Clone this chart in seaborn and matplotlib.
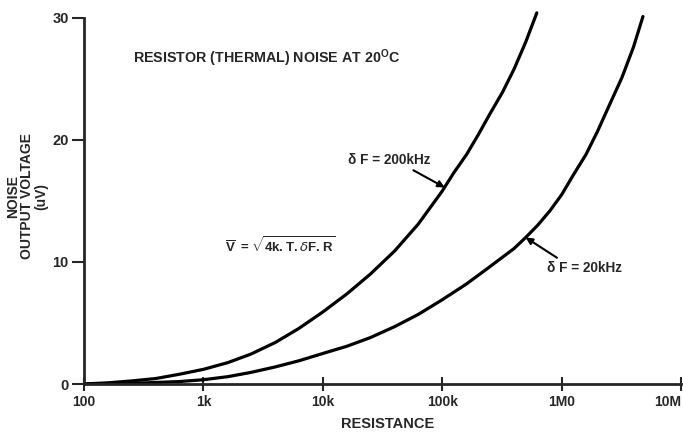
import matplotlib
matplotlib.use("Agg")
import matplotlib.pyplot as plt
import numpy as np
import pandas as pd
import seaborn as sns

# values (resistance in ohms, noise in uV)
r_200k = [100, 160, 250, 400, 630, 1e3, 1.6e3, 2.5e3, 4e3, 6.3e3, 1e4, 1.6e4, 2.5e4,
          4e4, 6.3e4, 1e5, 1.25e5, 1.6e5, 2e5, 2.5e5, 3.2e5, 4e5, 5e5, 6.2e5]
v_200k = [0.0, 0.1, 0.25, 0.45, 0.8, 1.2, 1.75, 2.45, 3.4, 4.55, 5.9, 7.4, 9.0,
          10.9, 13.1, 15.8, 17.3, 18.8, 20.4, 22.1, 23.9, 25.8, 28.0, 30.4]

r_20k = [100, 250, 630, 1e3, 1.6e3, 2.5e3, 4e3, 6.3e3, 1e4, 1.6e4, 2.5e4, 4e4, 6.3e4,
         1e5, 1.6e5, 2.5e5, 4e5, 5e5, 6.3e5, 8e5, 1e6, 1.25e6, 1.6e6, 2e6, 2.5e6,
         3.2e6, 4e6, 4.8e6]
v_20k = [0.0, 0.05, 0.2, 0.35, 0.6, 0.95, 1.4, 1.9, 2.5, 3.1, 3.8, 4.7, 5.7,
         6.9, 8.2, 9.6, 11.1, 12.0, 13.0, 14.2, 15.5, 17.1, 18.8, 20.7, 22.8,
         25.1, 27.6, 30.1]

xticks = [100, 1e3, 1e4, 1e5, 1e6, 1e7]
xticklabels = ["100", "1k", "10k", "100k", "1M0", "10M"]
yticks = [0, 10, 20, 30]

df1 = pd.DataFrame({"R": r_200k, "V": v_200k})
df2 = pd.DataFrame({"R": r_20k, "V": v_20k})

sns.set_style("ticks")
plt.rcParams['font.family'] = ['Liberation Sans', 'DejaVu Sans']
plt.rcParams['mathtext.fontset'] = 'custom'
plt.rcParams['mathtext.bf'] = 'Liberation Sans:bold'
plt.rcParams['mathtext.rm'] = 'Liberation Sans:bold'

fig = plt.figure(figsize=(6.83, 4.33), dpi=100)
ax = fig.add_axes([84/683, 49/433, 597/683, 376/433])

for d in (df1, df2):
    sns.lineplot(data=d, x="R", y="V", ax=ax, color="black", lw=2.3,
                 solid_joinstyle="round", solid_capstyle="round")

ax.set_xscale("log")
ax.set_xlim(100, 1e7)
ax.set_ylim(0, 30.8)
ax.set_xticks(xticks)
ax.set_xticklabels(xticklabels, fontweight="bold", fontsize=10)
ax.get_xticklabels()[-1].set_horizontalalignment("right")
ax.minorticks_off()
ax.set_yticks(yticks)
ax.set_yticklabels([str(t) for t in yticks], fontweight="bold", fontsize=10.5)
ax.tick_params(axis="y", direction="out", length=9, width=1.5, pad=2)
ax.tick_params(axis="x", direction="inout", length=10, width=1.5, pad=3)

sns.despine(ax=ax)
ax.spines["left"].set_bounds(0, 30)
ax.spines["left"].set_linewidth(2)
ax.spines["bottom"].set_linewidth(2)

ax.set_xlabel("")
ax.set_ylabel("")
fig.text(388/683, 1 - 424/433, "RESISTANCE", ha="center", va="center",
         fontweight="bold", fontsize=10.5)
fig.text(27/683, 1 - 196/433, "NOISE\nOUTPUT VOLTAGE\n(uV)", ha="center", va="center",
         rotation=90, fontweight="bold", fontsize=10, linespacing=1.0)

fig.text(133/683, 1 - 58/433, r"RESISTOR (THERMAL) NOISE AT 20$^{\mathbf{O}}$C",
         ha="left", va="center", fontweight="bold", fontsize=10.3)
fig.text(225/683, 1 - 245/433, r"$\overline{\mathbf{V}}\ \mathbf{=}\sqrt{\mathbf{4k.T.}\delta\mathbf{F.R}}$",
         ha="left", va="center", fontsize=9.5)

ax.annotate("δ F = 200kHz", xy=(1.05e5, 16.1), xytext=(348/683, 1 - 160/433),
            textcoords="figure fraction", ha="left", va="center",
            fontweight="bold", fontsize=9.8,
            arrowprops=dict(arrowstyle="-|>", color="black", lw=1.5,
                            shrinkA=0, shrinkB=0, relpos=(0.72, 0.0)))
ax.annotate("δ F = 20kHz", xy=(5e5, 12.0), xytext=(547/683, 1 - 268/433),
            textcoords="figure fraction", ha="left", va="center",
            fontweight="bold", fontsize=9.8,
            arrowprops=dict(arrowstyle="-|>", color="black", lw=1.5,
                            shrinkA=0, shrinkB=0, relpos=(0.2, 1.0)))

fig.savefig("out.png", dpi=100)
